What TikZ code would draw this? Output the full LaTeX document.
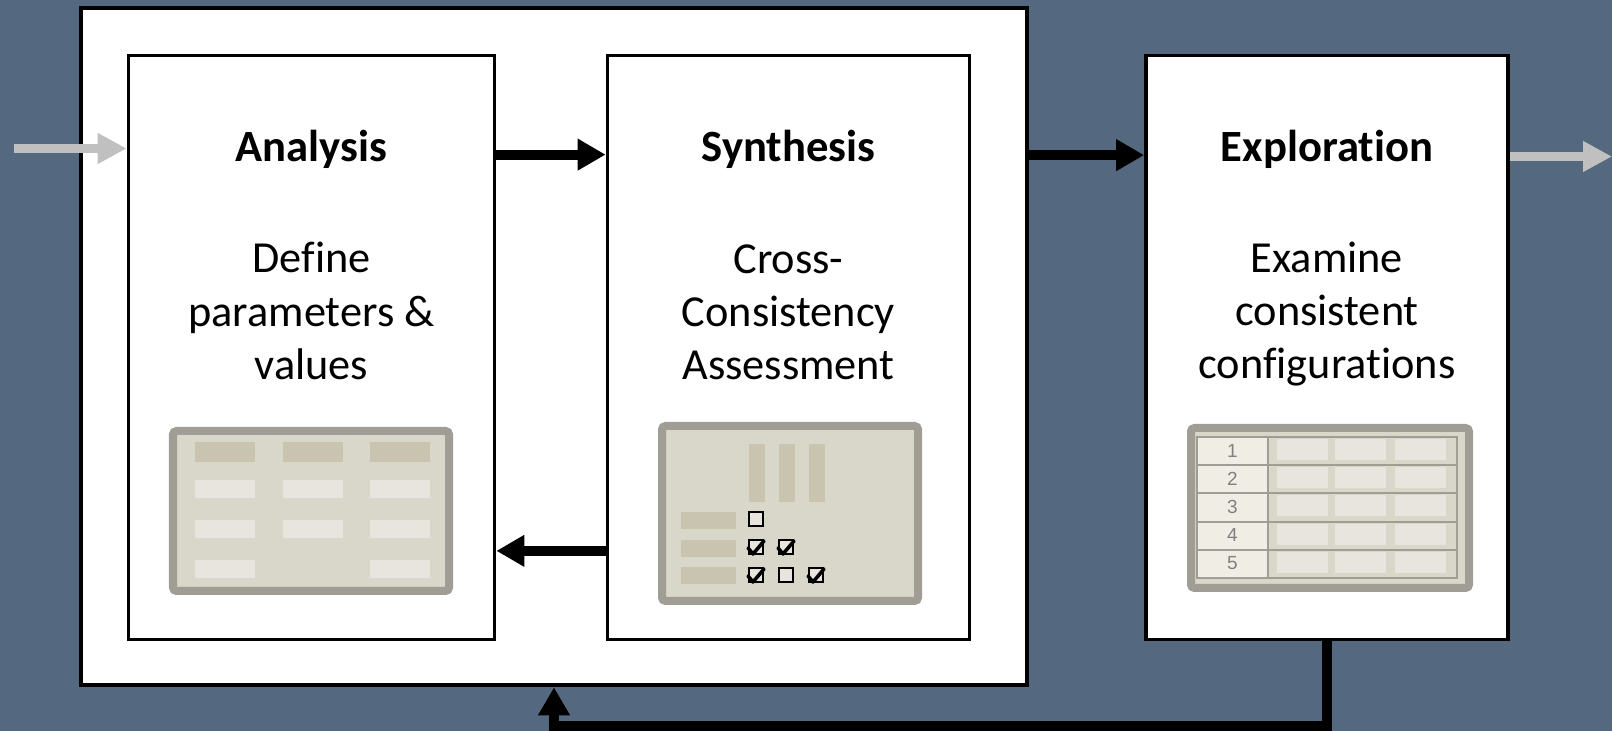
\documentclass[tikz,border=0pt]{standalone}
\usepackage{fontspec}
\setmainfont{Carlito}[Ligatures=NoCommon]
\newfontfamily\numfont{Liberation Sans}
\usetikzlibrary{arrows.meta,positioning,calc}
\definecolor{bgblue}{RGB}{84,104,128}
\definecolor{arrowgray}{RGB}{192,192,192}
\definecolor{iconframe}{RGB}{160,158,148}
\definecolor{iconfill}{RGB}{217,215,201}
\definecolor{iconbar}{RGB}{200,196,176}
\definecolor{iconcell}{RGB}{232,229,222}
\definecolor{iconnum}{RGB}{240,238,228}
\definecolor{numgray}{RGB}{128,128,128}

\tikzset{
  stage/.style={draw=black, fill=white, line width=1pt, minimum width=3.62cm,
    minimum height=5.84cm, inner sep=0pt},
  title/.style={font=\fontsize{12.7}{15}\selectfont\bfseries},
  body/.style={font=\fontsize{12.6}{15.1}\selectfont, align=center},
  flow/.style={line width=0.1cm, -{Triangle[length=0.28cm,width=0.3cm]}},
  ioflow/.style={arrowgray, line width=0.09cm, -{Triangle[length=0.29cm,width=0.29cm]}},
  frame/.style={draw=iconframe, fill=iconfill, line width=0.08cm, rounded corners=1pt},
  bar/.style={fill=iconbar},
  cell/.style={fill=iconcell},
  tick/.style={line width=1pt, line cap=round, line join=round},
  rule/.style={draw=iconframe, line width=0.6pt},
}

\begin{document}
\begin{tikzpicture}[x=0.01cm,y=-0.01cm]
  \fill[bgblue] (0,0) rectangle (1612,731);
  \useasboundingbox (0,0) rectangle (1612,731);
  %
  \node[stage, line width=1.2pt, minimum width=9.46cm, minimum height=6.77cm] (outer) at (554,346.5) {};
  \node[stage, minimum width=3.66cm] (ana) at (311.5,347.5) {};
  \node[stage] (syn) at (788.5,347.5) {};
  \node[stage] (exp) at (1327,347.5) {};
  %
  \node[title] (ana-title) at (311.5,149) {Analysis};
  \node[title] (syn-title) at (788.5,149) {Synthesis};
  \node[title] (exp-title) at (1327,149) {Exploration};
  \node[body] (ana-text) at (311.5,311) {Define\\parameters \&\\values};
  \node[body] (syn-text) at (788.5,312) {Cross-\\Consistency\\Assessment};
  \node[body] (exp-text) at (1327,314) {Examine\\consistent\\configurations};
  %
  \draw[flow] ([yshift=-1.01cm]ana.north east) -- ([yshift=-1.01cm]syn.north west);
  \draw[flow] ([yshift=0.905cm]syn.south west) -- ([yshift=0.905cm]ana.south east);
  \coordinate (exp-in) at ([yshift=-1.015cm]exp.north west);
  \draw[flow] (outer.east |- exp-in) -- (exp-in);
  \draw[flow] (exp.south) -- ++(0,85) -| (outer.south);
  \coordinate (src) at (14,148.5);
  \coordinate (sink) at (1612,156.5);
  \draw[ioflow] (src) -- (src -| ana.west);
  \draw[ioflow] (exp.east |- sink) -- (sink);
  %
  \draw[frame] (173,431) rectangle (449,591);
  \foreach \x in {195,283,370} \fill[bar] (\x,442) rectangle ++(60,20);
  \foreach \x/\y in {195/480,283/480,370/480,195/520,283/520,370/520,195/560,370/560}
    \fill[cell] (\x,\y) rectangle ++(60,18);
  %
  \draw[frame] (662,426) rectangle (918,601);
  \foreach \x in {749,779,809} \fill[bar] (\x,444) rectangle ++(16,58);
  \foreach \y in {512,540,567} \fill[bar] (681,\y) rectangle ++(55,17);
  \foreach \x/\y in {749/512,749/540,779/540,749/568,779/568,809/568}
    \draw[fill=iconcell, line width=0.4pt] (\x,\y) rectangle ++(14,14);
  \foreach \x/\y in {749/540,779/540,749/568,809/568}
    \draw[tick] (\x-1,\y+8) -- (\x+4,\y+14) -- (\x+15,\y+1);
  %
  \draw[frame] (1191,428) rectangle (1469,588);
  \fill[iconnum] (1197,437) rectangle (1268,578);
  \foreach \n in {1,...,5} {
    \pgfmathsetmacro\ytop{437+28.2*(\n-1)}
    \foreach \x in {1277,1335,1395} \fill[cell] (\x,\ytop+2) rectangle ++(51,21);
    \node[font=\numfont\fontsize{5.4}{6}\selectfont, text=numgray, inner sep=0pt] (row\n) at (1232.5,\ytop+13.5) {\n};
  }
  \draw[rule] (1197,437) rectangle (1457,578);
  \foreach \y in {465.2,493.4,521.6,549.8} \draw[rule] (1197,\y) -- (1457,\y);
  \draw[rule] (1268,437) -- (1268,578);
\end{tikzpicture}
\end{document}
